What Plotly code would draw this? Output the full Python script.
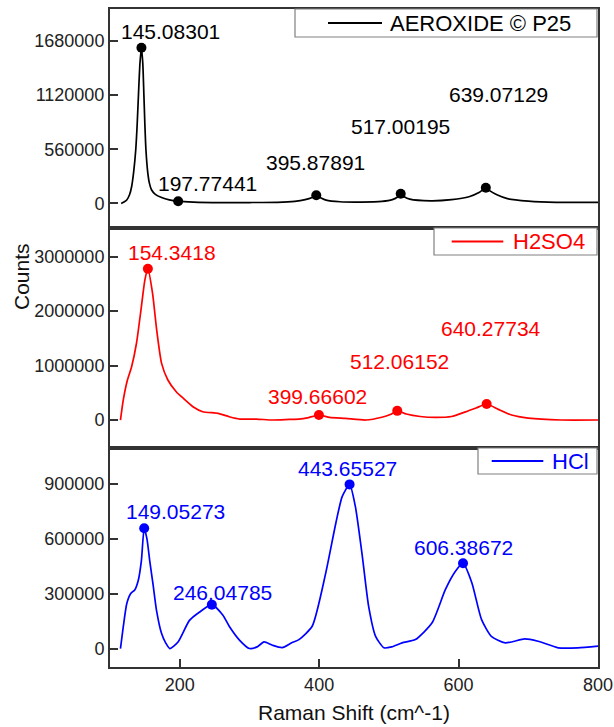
import plotly.graph_objects as go

# ---------------- data ----------------
# AEROXIDE P25 (black)
p25_x = [116, 120, 124, 128, 131, 134, 137, 139, 141, 143, 145.08301, 147, 148.6, 150, 151.5, 154, 156.5, 159.5,
         165, 174, 185, 197.77441, 220, 260, 300, 340, 365, 380, 390, 395.87891, 402, 410, 430, 460, 490, 505,
         512, 517.00195, 522, 530, 560, 590, 615, 630, 639.07129, 645, 655, 670, 700, 740, 800]
p25_y = [0, 15000, 36000, 90000, 173000, 330000, 560000, 820000, 1150000, 1450000, 1608000, 1450000, 1124000,
         820000, 560000, 330000, 210000, 142000, 95000, 62000, 38000, 24000, 15000, 10000, 10000, 12000, 22000,
         40000, 62000, 85000, 60000, 35000, 18000, 15000, 22000, 40000, 65000, 100000, 70000, 45000, 28000,
         40000, 70000, 115000, 162000, 130000, 90000, 50000, 25000, 12000, 12000]

# H2SO4 (red)
h2so4_x = [115, 119, 125, 131, 138, 145, 150, 154.3418, 161, 167, 174, 183, 195, 205, 219, 233, 255, 271, 286,
           310, 333, 357, 371, 385, 399.66602, 415, 438, 467, 490, 502, 512.06152, 525, 545, 567, 590, 610, 625,
           640.27734, 657, 676, 700, 747, 800]
h2so4_y = [0, 367000, 735000, 980000, 1410000, 2080000, 2570000, 2780000, 2330000, 1650000, 1040000, 735000,
           520000, 400000, 245000, 153000, 122000, 61000, 18000, 18000, 0, 10000, 15000, 45000, 92000, 50000,
           30000, 0, 50000, 100000, 168000, 110000, 65000, 49000, 65000, 150000, 220000, 294000, 195000, 91000,
           35000, 0, 0]

# HCl (blue)
hcl_x = [115, 119, 124, 129.5, 135.7, 140.5, 145, 149.05273, 153, 157, 162, 166.7, 174, 180, 185.7, 197.6, 214,
         228.6, 246.04785, 262, 271, 286, 300, 311, 321, 333, 347, 360, 371, 390, 409.5, 424, 433, 443.65527,
         452, 462, 471, 481, 493, 504, 519, 538, 562, 581, 595, 606.38672, 619, 633, 647, 667, 695, 714, 743,
         771, 800]
hcl_y = [0, 118000, 245000, 300000, 322000, 372000, 480000, 658000, 600000, 480000, 344000, 209000, 82000,
         30000, 0, 36000, 154000, 200000, 240000, 182000, 122000, 45000, 0, 9000, 36000, 18000, 5000, 30000,
         49000, 122000, 414000, 687000, 831000, 898000, 776000, 503000, 231000, 67000, 4000, 9000, 31000, 49000,
         141000, 322000, 420000, 467000, 360000, 158000, 67000, 31000, 53000, 40000, 4000, 4000, 13000]

# labelled peaks
p25_peak_x = [145.08301, 197.77441, 395.87891, 517.00195, 639.07129]
p25_peak_y = [1608000, 24000, 85000, 100000, 162000]
h2so4_peak_x = [154.3418, 399.66602, 512.06152, 640.27734]
h2so4_peak_y = [2780000, 92000, 168000, 294000]
hcl_peak_x = [149.05273, 246.04785, 443.65527, 606.38672]
hcl_peak_y = [658000, 240000, 898000, 467000]

series_names = ["AEROXIDE © P25", "H2SO4", "HCl"]
x_ticks = [200, 400, 600, 800]
y_ticks = [[0, 560000, 1120000, 1680000], [0, 1000000, 2000000, 3000000], [0, 300000, 600000, 900000]]

# ---------------- styling / layout ----------------
W, H = 614, 727
L, R, T, B = 110, 598, 9, 667
PW, PH = R - L, B - T
def pxx(p): return (p - L) / PW
def pxy(p): return (B - p) / PH

FONT = "Arial, Liberation Sans, sans-serif"
AX = "#333333"
colors = ["#000000", "#ff0000", "#0000ff"]
panel_px = [(9, 228), (228, 448), (448, 667)]
y_ranges = [[-253000, 2008000], [-514000, 3527000], [-101000, 1097000]]
label_offsets = [
    [(29.5, -16), (29, -18), (-1, -33), (0, -67), (13, -93)],
    [(24, -16.6), (-1, -19), (2.5, -49), (4.5, -76)],
    [(31, -17), (10.5, -12), (-2.5, -16), (0, -15.6)],
]
legend_px = [  # box x0,x1,y0,y1, line x0,x1, text x
    (295, 597, 9, 37, 328, 382, 388),
    (434, 597, 228, 255, 451.7, 503.3, 510.7),
    (478, 597, 448, 474, 491.7, 543.3, 550),
]

curves = [(p25_x, p25_y), (h2so4_x, h2so4_y), (hcl_x, hcl_y)]
peaks = [(p25_peak_x, p25_peak_y), (h2so4_peak_x, h2so4_peak_y), (hcl_peak_x, hcl_peak_y)]

fig = go.Figure()
annotations = []
shapes = []
for i in range(3):
    sfx = "" if i == 0 else str(i + 1)
    xr, yr = "x" + sfx, "y" + sfx
    cx, cy = curves[i]
    fig.add_trace(go.Scatter(x=cx, y=cy, mode="lines", name=series_names[i], xaxis=xr, yaxis=yr,
                             line=dict(color=colors[i], width=1.7, shape="spline", smoothing=0.6),
                             showlegend=False))
    kx, ky = peaks[i]
    fig.add_trace(go.Scatter(x=kx, y=ky, mode="markers", name=series_names[i] + " peaks", xaxis=xr, yaxis=yr,
                             marker=dict(color=colors[i], size=10), showlegend=False))
    for (px_, py_), (dx, dy) in zip(zip(kx, ky), label_offsets[i]):
        annotations.append(dict(x=px_, y=py_, xref=xr, yref=yr, text=str(px_), showarrow=False,
                                xanchor="center", yanchor="middle", xshift=dx, yshift=-dy,
                                font=dict(family=FONT, size=21, color=colors[i])))
    top, bot = panel_px[i]
    fig.layout["xaxis" + sfx] = dict(domain=[0, 1], range=[100, 800], anchor=yr,
                                     showline=True, mirror=True, linecolor=AX, linewidth=2,
                                     showgrid=False, zeroline=False,
                                     tickvals=x_ticks, ticks="inside" if i == 2 else "",
                                     ticklen=8, tickwidth=1.5, tickcolor=AX,
                                     showticklabels=(i == 2),
                                     tickfont=dict(family=FONT, size=18, color="#222222"),
                                     matches=None if i == 0 else "x")
    fig.layout["yaxis" + sfx] = dict(domain=[pxy(bot), pxy(top)], range=y_ranges[i], anchor=xr,
                                     showline=True, mirror=True, linecolor=AX, linewidth=2,
                                     showgrid=False, zeroline=False,
                                     tickvals=y_ticks[i], tickformat="d", ticks="inside",
                                     ticklen=8, tickwidth=1.5, tickcolor=AX,
                                     tickfont=dict(family=FONT, size=18, color="#222222"))
    # legend box drawn as shapes + text
    bx0, bx1, by0, by1, lx0, lx1, tx = legend_px[i]
    shapes.append(dict(type="rect", xref="paper", yref="paper", x0=pxx(bx0), x1=pxx(bx1),
                       y0=pxy(by1), y1=pxy(by0), line=dict(color="#808080", width=1.2),
                       fillcolor="white", layer="above"))
    ym = pxy((by0 + by1) / 2)
    shapes.append(dict(type="line", xref="paper", yref="paper", x0=pxx(lx0), x1=pxx(lx1), y0=ym, y1=ym,
                       line=dict(color=colors[i], width=1.8), layer="above"))
    annotations.append(dict(x=pxx(tx), y=ym, xref="paper", yref="paper", text=series_names[i],
                            showarrow=False, xanchor="left", yanchor="middle",
                            font=dict(family=FONT, size=22, color=colors[i])))

annotations.append(dict(x=pxx(21), y=pxy(277), xref="paper", yref="paper", text="Counts", textangle=-90,
                        showarrow=False, xanchor="center", yanchor="middle",
                        font=dict(family=FONT, size=21, color="#111111")))
annotations.append(dict(x=pxx(354), y=pxy(712), xref="paper", yref="paper", text="Raman Shift (cm^-1)",
                        showarrow=False, xanchor="center", yanchor="middle",
                        font=dict(family=FONT, size=21, color="#111111")))

fig.update_layout(width=W, height=H, margin=dict(l=L, r=W - R, t=T, b=H - B, autoexpand=False),
                  paper_bgcolor="white", plot_bgcolor="white", showlegend=False,
                  annotations=annotations, shapes=shapes, font=dict(family=FONT))
fig.write_html("out.html")
